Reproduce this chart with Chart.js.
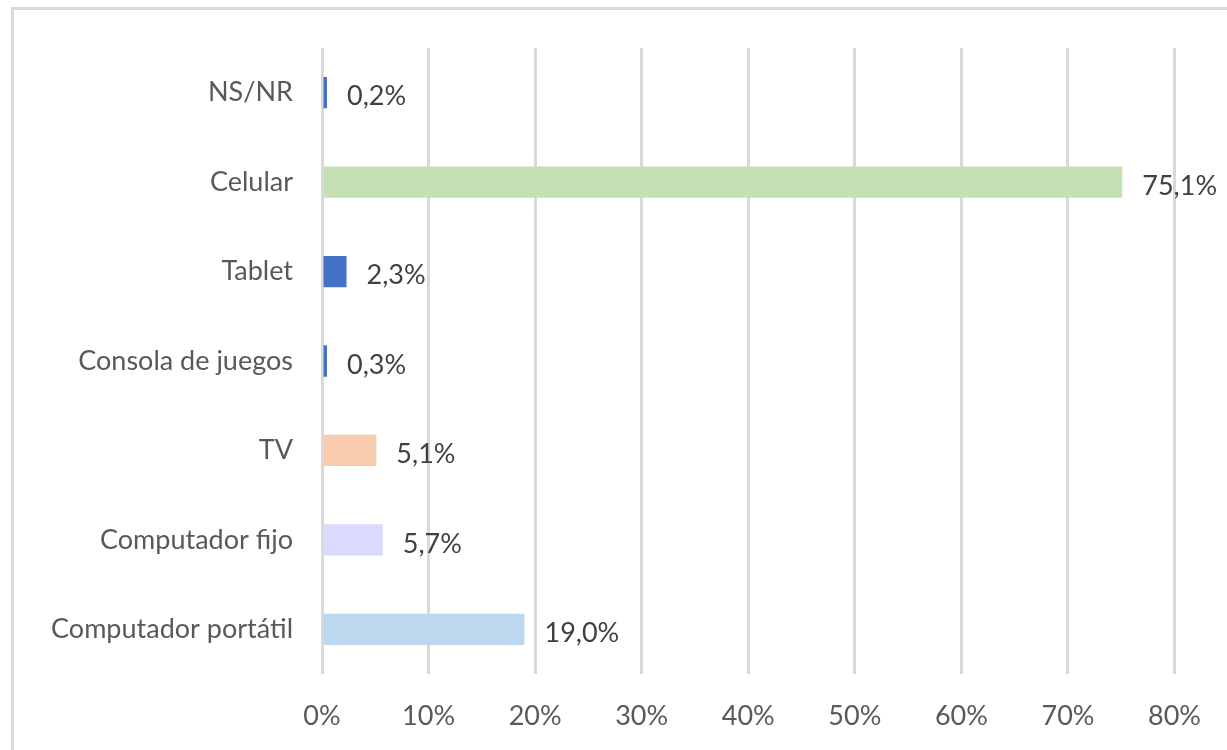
<!DOCTYPE html>
<html lang="es">
<head>
  <meta charset="UTF-8">
  <title>Dispositivos</title>
  <script src="https://cdn.jsdelivr.net/npm/chart.js"></script>
  <style>
    html, body { margin: 0; padding: 0; background: #fff; overflow: hidden; }
    #wrap { position: relative; width: 1227px; height: 750px; }
    #marco {
      position: absolute; left: 11px; top: 7px; width: 1400px; height: 900px;
      border: 3px solid #d9d9d9; box-sizing: border-box;
    }
    canvas { position: absolute; left: 0; top: 0; }
  </style>
</head>
<body>
  <div id="wrap">
    <div id="marco"></div>
    <canvas id="grafico" width="1227" height="750"></canvas>
  </div>

  <script>
    const categorias = ["NS/NR", "Celular", "Tablet", "Consola de juegos", "TV", "Computador fijo", "Computador portátil"];
    const valores = [0.2, 75.1, 2.3, 0.3, 5.1, 5.7, 19.0];
    const colores = ["#4472C4", "#C5E0B4", "#4472C4", "#4472C4", "#F8CBAD", "#DADAFC", "#BDD7EE"];
    const ticksX = [0, 10, 20, 30, 40, 50, 60, 70, 80];

    const fuente = "Lato, 'Open Sans', sans-serif";
    const fmt = v => v.toFixed(1).replace(".", ",") + "%";

    // etiquetas de valor a la derecha de cada barra
    const etiquetas = {
      id: "etiquetas",
      afterDatasetsDraw(chart) {
        const ctx = chart.ctx;
        const meta = chart.getDatasetMeta(0);
        ctx.save();
        ctx.font = "27px " + fuente;
        ctx.fillStyle = "#404040";
        ctx.textAlign = "left";
        ctx.textBaseline = "middle";
        meta.data.forEach((bar, i) => {
          ctx.fillText(fmt(valores[i]), bar.x + 20, bar.y + 4);
        });
        ctx.restore();
      }
    };

    new Chart(document.getElementById("grafico"), {
      type: "bar",
      data: {
        labels: categorias,
        datasets: [{
          data: valores,
          backgroundColor: colores,
          borderWidth: 0,
          minBarLength: 5,
          barPercentage: 0.35,
          categoryPercentage: 1
        }]
      },
      options: {
        indexAxis: "y",
        responsive: false,
        animation: false,
        layout: { padding: { top: 48, right: 39, bottom: 0, left: 0 } },
        plugins: { legend: { display: false }, tooltip: { enabled: false } },
        scales: {
          x: {
            min: ticksX[0],
            max: ticksX[ticksX.length - 1],
            afterBuildTicks: axis => { axis.ticks = ticksX.map(v => ({ value: v })); },
            grid: { color: "#d9d9d9", lineWidth: 3, drawTicks: false },
            border: { display: false },
            ticks: {
              color: "#595959",
              font: { family: fuente, size: 27 },
              padding: 26,
              callback: v => v + "%"
            },
            afterFit: axis => { axis.height = 76; }
          },
          y: {
            grid: { display: false },
            border: { display: false },
            ticks: {
              color: "#595959",
              font: { family: fuente, size: 27 },
              padding: 21
            },
            afterFit: axis => { axis.width = 322; }
          }
        }
      },
      plugins: [etiquetas]
    });
  </script>
</body>
</html>
